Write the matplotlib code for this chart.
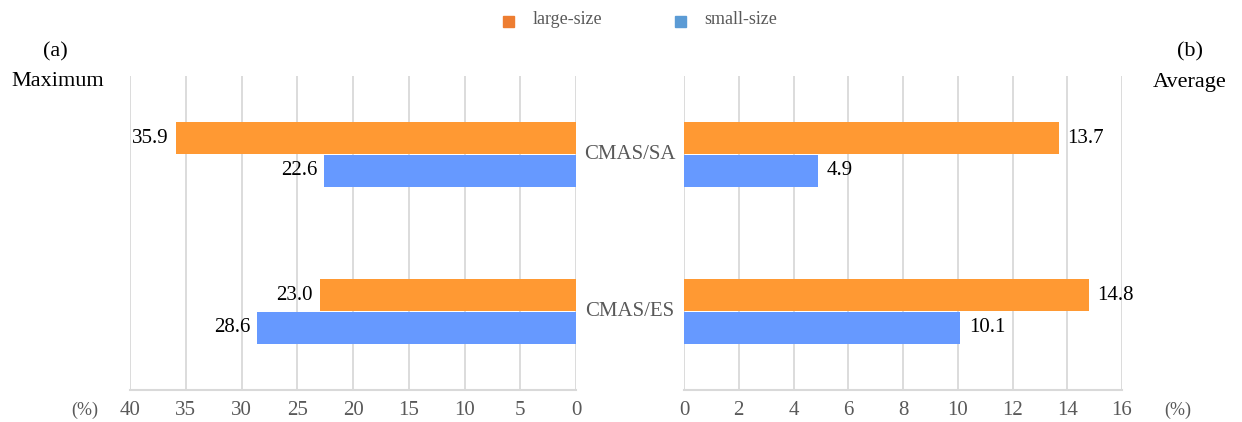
import matplotlib.pyplot as plt

plt.rcParams['font.family'] = ['Liberation Serif', 'DejaVu Serif']

categories = ['CMAS/SA', 'CMAS/ES']
max_large = [35.9, 23.0]
max_small = [22.6, 28.6]
avg_large = [13.7, 14.8]
avg_small = [4.9, 10.1]
left_ticks = [40, 35, 30, 25, 20, 15, 10, 5, 0]
right_ticks = [0, 2, 4, 6, 8, 10, 12, 14, 16]

orange = '#FF9933'
blue = '#6699FF'
grid_c = '#D9D9D9'
text_c = '#595959'

fig = plt.figure(figsize=(12.42, 4.22), dpi=100)
axL = fig.add_axes([130/1242, 1-390/422, 446/1242, 314/422])
axR = fig.add_axes([684/1242, 1-390/422, 438/1242, 314/422])

pos = list(range(len(categories)))
h = 0.21


def setup(ax, ticks, xlim):
    ax.set_xlim(*xlim)
    ax.set_ylim(1.5, -0.5)
    ax.set_xticks(ticks)
    ax.set_xticklabels([str(t) for t in ticks], fontsize=15, color=text_c)
    ax.tick_params(axis='x', length=0, pad=8)
    ax.set_yticks([])
    for s in ['top', 'left', 'right']:
        ax.spines[s].set_visible(False)
    ax.spines['bottom'].set_color(grid_c)
    ax.spines['bottom'].set_linewidth(1.5)
    ax.grid(axis='x', color=grid_c, linewidth=1.3)
    ax.set_axisbelow(True)


setup(axL, left_ticks, (40, 0))
setup(axR, right_ticks, (0, 16))

for ax, large, small, off, ha in [(axL, max_large, max_small, -5, 'right'),
                                  (axR, avg_large, avg_small, 6, 'left')]:
    bl = ax.barh([p - h/2 for p in pos], large, height=h, color=orange)
    bs = ax.barh([p + h/2 for p in pos], small, height=h, color=blue)
    for bars, vals in [(bl, large), (bs, small)]:
        for b, v in zip(bars, vals):
            ax.annotate(f'{v:.1f}', (v, b.get_y() + b.get_height()/2),
                        xytext=(off, 0), textcoords='offset points',
                        ha=ha, va='center', fontsize=15, color='black')

# category names between the two panels
for p, c in zip(pos, categories):
    y = axL.transData.transform((0, p))[1]
    fy = fig.transFigure.inverted().transform((0, y))[1]
    fig.text(630/1242, fy, c, ha='center', va='center', fontsize=15, color=text_c)

fig.text(55/1242, 1-52/422, '(a)', ha='center', va='center', fontsize=16)
fig.text(58/1242, 1-82/422, 'Maximum', ha='center', va='center', fontsize=16)
fig.text(1190/1242, 1-52/422, '(b)', ha='center', va='center', fontsize=16)
fig.text(1190/1242, 1-82/422, 'Average', ha='center', va='center', fontsize=16)
fig.text(85/1242, 1-410/422, '(%)', ha='center', va='center', fontsize=13, color=text_c)
fig.text(1178/1242, 1-410/422, '(%)', ha='center', va='center', fontsize=13, color=text_c)

# legend
fig.patches.append(plt.Rectangle((503/1242, 1-27/422), 11/1242, 11/422,
                                 transform=fig.transFigure, color='#ED7D31'))
fig.text(533/1242, 1-20/422, 'large-size', ha='left', va='center', fontsize=13, color=text_c)
fig.patches.append(plt.Rectangle((675/1242, 1-27/422), 11/1242, 11/422,
                                 transform=fig.transFigure, color='#5B9BD5'))
fig.text(704/1242, 1-20/422, 'small-size', ha='left', va='center', fontsize=13, color=text_c)

fig.savefig('out.png', dpi=100)
